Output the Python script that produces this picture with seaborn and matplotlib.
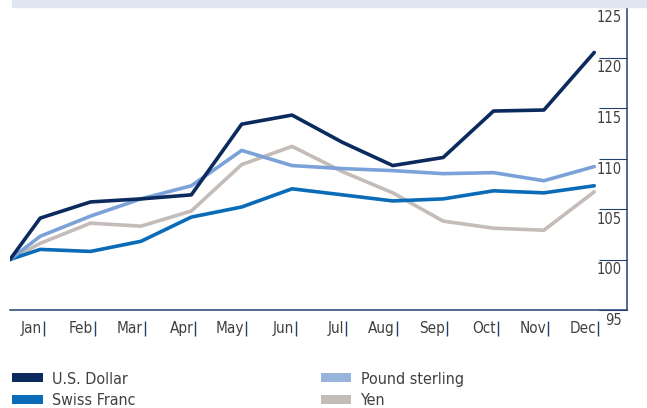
import numpy as np
import pandas as pd
import matplotlib
matplotlib.use("Agg")
import matplotlib.pyplot as plt
import matplotlib.transforms as mtransforms
from matplotlib.patches import Patch, Rectangle
import seaborn as sns

# --- data ---
months = ["Jan", "Feb", "Mar", "Apr", "May", "Jun",
          "Jul", "Aug", "Sep", "Oct", "Nov", "Dec"]
base_value = 100
usd = [104.1, 105.7, 106.0, 106.4, 113.4, 114.3, 111.6, 109.3, 110.1, 114.7, 114.8, 120.5]
pound = [102.3, 104.3, 106.0, 107.3, 110.8, 109.3, 109.0, 108.8, 108.5, 108.6, 107.8, 109.2]
yen = [101.6, 103.6, 103.3, 104.8, 109.4, 111.2, 108.7, 106.6, 103.8, 103.1, 102.9, 106.7]
chf = [101.0, 100.8, 101.8, 104.2, 105.2, 107.0, 106.4, 105.8, 106.0, 106.8, 106.6, 107.3]
yticks = [95, 100, 105, 110, 115, 120, 125]

series = {"U.S. Dollar": usd, "Swiss Franc": chf, "Pound sterling": pound, "Yen": yen}
colors = {"U.S. Dollar": "#0b2a5e", "Swiss Franc": "#0a6cb8",
          "Pound sterling": "#7ba2d8", "Yen": "#c4bcb8"}
legend_colors = {"U.S. Dollar": "#0b2a5e", "Swiss Franc": "#0a6cb8",
                 "Pound sterling": "#98b3de", "Yen": "#c4bcb8"}

base_pos = -0.6
pos = np.arange(len(months))
rows = []
for name, vals in series.items():
    rows.append({"currency": name, "x": base_pos, "value": base_value})
    for p, v in zip(pos, vals):
        rows.append({"currency": name, "x": p, "value": v})
df = pd.DataFrame(rows)

sns.set_style("white")
plt.rcParams["font.family"] = ["DejaVu Sans"]
plt.rcParams["font.stretch"] = "condensed"

fig = plt.figure(figsize=(6.47, 4.08), dpi=100)
ax = fig.add_axes([10 / 647, 98 / 408, 617 / 647, 303 / 408])

# light band at the top
fig.patches.append(Rectangle((12 / 647, 401 / 408), 1 - 12 / 647, 7 / 408,
                             transform=fig.transFigure, color="#dfe6f2", zorder=0))

order = ["Yen", "Swiss Franc", "Pound sterling", "U.S. Dollar"]
sns.lineplot(data=df, x="x", y="value", hue="currency", hue_order=order,
             palette=colors, linewidth=2.6, legend=False, ax=ax, sort=True)

ax.set_xlim(base_pos, 11.65)
ax.set_ylim(95, 125)
ax.set_xlabel("")
ax.set_ylabel("")

spine_col = "#23406f"
text_col = "#404040"
for s in ["top", "left"]:
    ax.spines[s].set_visible(False)
for s in ["right", "bottom"]:
    ax.spines[s].set_color(spine_col)
    ax.spines[s].set_linewidth(1.1)

# y ticks: inward from the right spine, labels inside below each tick
ax.yaxis.tick_right()
ax.set_yticks(yticks)
ax.set_yticklabels([])
ax.tick_params(axis="y", direction="in", length=20, width=0.8, color=spine_col)
ytrans = mtransforms.blended_transform_factory(ax.transAxes, ax.transData)
for t in yticks:
    ax.annotate(str(t), xy=(1, t), xycoords=ytrans, xytext=(-5, -3),
                textcoords="offset pixels", ha="right", va="top",
                fontsize=10.5, color=text_col, annotation_clip=False)

# x labels with small separators
ax.set_xticks([])
xtrans = mtransforms.blended_transform_factory(ax.transData, ax.transAxes)
ax.vlines(pos + 0.08, -0.086, -0.036, transform=xtrans, color=spine_col,
          linewidth=1.0, clip_on=False)
for p, m in zip(pos, months):
    ax.annotate(m, xy=(p + 0.08, -0.061), xycoords=xtrans, xytext=(-2, 0),
                textcoords="offset pixels", ha="right", va="center",
                fontsize=11, color=text_col, annotation_clip=False)

# legend
leg_order = ["U.S. Dollar", "Swiss Franc", "Pound sterling", "Yen"]
handles = [Patch(facecolor=legend_colors[n], edgecolor="none") for n in leg_order]
fig.legend(handles, leg_order, ncol=2, loc="lower left",
           bbox_to_anchor=(-0.003, -0.035), frameon=False, fontsize=11.5,
           handlelength=1.9, handleheight=0.5, handletextpad=0.6,
           columnspacing=11.6, labelspacing=0.4, labelcolor=text_col)

fig.savefig("out.png", dpi=100)
